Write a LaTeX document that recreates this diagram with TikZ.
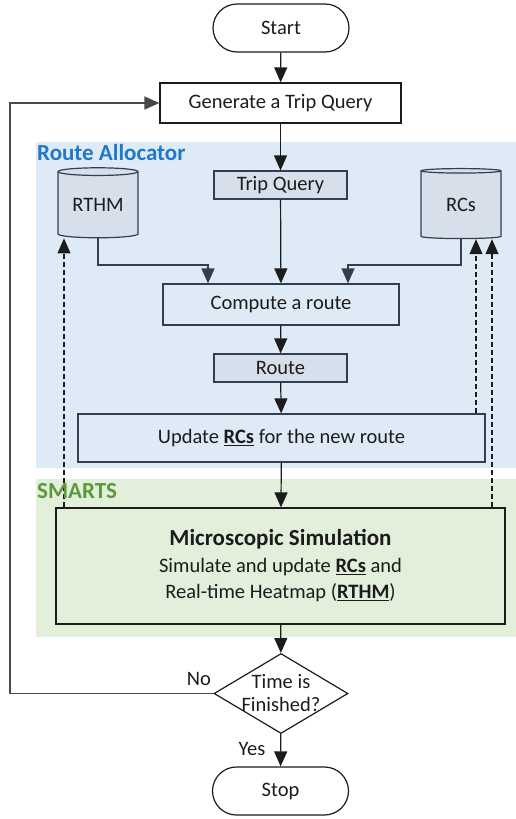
\documentclass[tikz,border=0pt]{standalone}
\usepackage{fontspec}
\setmainfont{Carlito}
\usetikzlibrary{arrows.meta,shapes.geometric}

\definecolor{allocfill}{HTML}{DEEBF7}
\definecolor{allocbox}{HTML}{D6DFEA}
\definecolor{allocline}{HTML}{333F50}
\definecolor{alloctitle}{HTML}{1F78C8}
\definecolor{smartsfill}{HTML}{E2EFDA}
\definecolor{smartstitle}{HTML}{5B9A3C}
\definecolor{ink}{HTML}{1C1C1C}

\tikzset{
	base/.style={draw=ink, line width=1.2pt, text=ink, inner sep=0pt,
		font=\fontsize{20.5}{23}\selectfont},
	terminal/.style={base, rectangle, rounded corners=24pt, minimum width=136pt, minimum height=48pt},
	process/.style={base, rectangle},
	data/.style={base, rectangle, draw=allocline, fill=allocbox},
	store/.style={base, draw=allocline, fill=allocbox, shape=cylinder, shape border rotate=90,
		aspect=0.15, minimum width=80pt, minimum height=70pt},
	decision/.style={base, shape=diamond, minimum width=134pt, minimum height=80pt},
	region/.style={font=\fontsize{23}{26}\selectfont\bfseries, anchor=west, inner sep=1pt},
	flow/.style={line width=1.2pt, draw=ink, -{Triangle[width=13pt,length=15pt]}},
	feedback/.style={flow, dash pattern=on 5pt off 3pt},
	lbl/.style={text=ink, font=\fontsize{20.5}{23}\selectfont, inner sep=0pt}
}

\begin{document}
\begin{tikzpicture}[x=1pt, y=-1pt]
	\useasboundingbox (0,0) rectangle (516,819);

	%REGIONS
	\fill[allocfill] (36,142) rectangle (516,468);
	\fill[smartsfill] (36,479) rectangle (516,637);

	%NODES
	\node[terminal] (start) at (281,28) {Start};
	\node[process, minimum width=241pt, minimum height=40pt] (gen) at (280.5,103) {Generate a Trip Query};

	\node[data, minimum width=133pt, minimum height=28pt] (tq) at (280.5,185) {Trip Query};
	\node[store] (rthm) at (98,205) {RTHM};
	\node[store] (rcs) at (461,205) {RCs};
	\node[process, draw=allocline, minimum width=236pt, minimum height=41pt] (comp) at (281,304.5) {Compute a route};
	\node[data, minimum width=133pt, minimum height=28pt] (route) at (280.5,368) {Route};
	\node[process, draw=allocline, minimum width=407pt, minimum height=48pt] (upd) at (281.5,438)
		{Update \underline{\textbf{RCs}} for the new route};

	\node[process, fill=smartsfill, minimum width=449pt, minimum height=116pt, align=center] (sim) at (280.5,566)
		{{\fontsize{23}{27}\selectfont\bfseries Microscopic Simulation}\\[4pt]
		 Simulate and update \underline{\textbf{RCs}} and\\[3pt]
		 Real-time Heatmap (\underline{\textbf{RTHM}})};

	\node[decision, label={[lbl, align=center]center:Time is\\Finished?}] (dec) at (281,693.5) {};
	\node[terminal] (stop) at (280.5,791) {Stop};

	%LABELS
	\node[region, text=alloctitle] (alloc) at (36,153) {Route Allocator};
	\node[lbl] (no) at (199,679) {No};
	\node[lbl] (yes) at (252,749) {Yes};

	%MAIN FLOW
	\draw[flow] (start) -- (gen);
	\draw[flow] (gen) -- (tq);
	\draw[flow] (tq) -- (comp);
	\draw[flow] (comp) -- (route);
	\draw[flow] (route) -- (upd);
	\draw[flow] (upd) -- (sim);
	\draw[flow] (sim) -- (dec);
	\draw[flow] (dec) -- (stop);

	%STORES INTO ROUTING
	\coordinate (inl) at (208,265);
	\coordinate (inr) at (348,265);
	\draw[flow, draw=allocline] (rthm.south) |- (inl) -- (inl |- comp.north);
	\draw[flow, draw=allocline] (rcs.south) |- (inr) -- (inr |- comp.north);

	%FEEDBACK (dashed)
	\draw[feedback] (sim.north -| 64,0) -- (rthm.south -| 64,0);
	\draw[feedback] (upd.north -| 476,0) -- (rcs.south -| 476,0);
	\draw[feedback] (sim.north -| 492,0) -- (rcs.south -| 492,0);

	\node[region, text=smartstitle] (smarts) at (36,491) {SMARTS};

	%LOOP BACK
	\coordinate (back) at (10,693.5);
	\draw[flow, draw=ink!80] (dec.west) -- (back) |- (gen.west);
\end{tikzpicture}
\end{document}
